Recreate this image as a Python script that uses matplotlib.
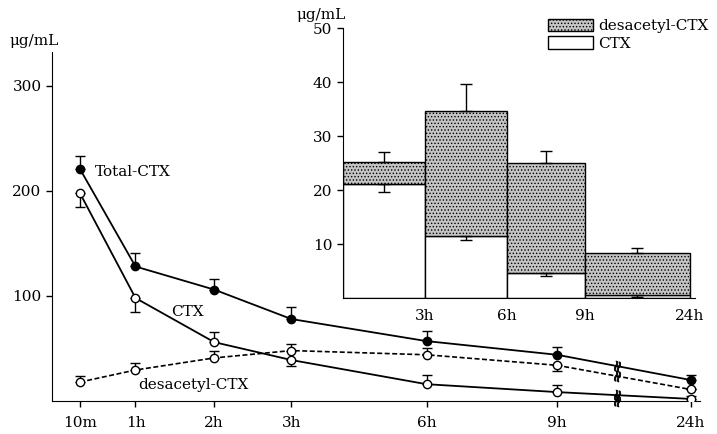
import numpy as np
import matplotlib
matplotlib.use("Agg")
import matplotlib.pyplot as plt
from matplotlib.markers import MarkerStyle
from matplotlib.transforms import Affine2D
from matplotlib.patches import Patch

plt.rcParams["font.family"] = ["DejaVu Serif"]
plt.rcParams["font.size"] = 11
plt.rcParams["hatch.linewidth"] = 0.6
plt.rcParams["hatch.color"] = "#555555"

# main chart: serum level after dosing
times = ["10m", "1h", "2h", "3h", "6h", "9h", "24h"]
total_ctx = [221, 128, 106, 78, 57, 44, 20]
total_up = [12, 13, 10, 11, 10, 7, 5]
ctx = [198, 98, 56, 39, 16, 8.5, 2]
ctx_lo = [13, 13, 0, 6, 0, 0, 0]
ctx_up = [0, 0, 10, 0, 9, 7, 3]
desac = [18, 29.5, 41, 48, 44, 34, 11]
desac_lo = [0, 0, 0, 0, 0, 5, 0]
desac_up = [6, 7, 7, 6, 6, 0, 0]

# inset: stacked bars per interval
intervals = ["3h", "6h", "9h", "24h"]
bar_ctx = [21.2, 11.6, 4.6, 0.6]
bar_desac = [4.0, 23.0, 20.4, 7.8]
bar_total_up = [1.8, 5.1, 2.2, 0.8]
bar_ctx_lo = [1.6, 0.8, 0.5, 0.4]

# layout (axis positions, not data)
xpos = np.array([0, 0.7, 1.69, 2.66, 4.36, 6.0, 7.68])
xbreak = 6.76
bar_left = np.array([0, 1, 2, 2.95])
bar_w = np.array([1, 1, 0.95, 1.28])

fig = plt.figure(figsize=(7.17, 4.34), dpi=100)
ax = fig.add_axes([0.0725, 0.076, 0.904, 0.804])

for s in ["top", "right"]:
    ax.spines[s].set_visible(False)

ax.errorbar(xpos, total_ctx, yerr=[np.zeros(7), total_up], color="black", lw=1.3,
            marker="o", ms=6, mfc="black", capsize=3.5, elinewidth=1, zorder=3)
ax.errorbar(xpos, ctx, yerr=[ctx_lo, ctx_up], color="black", lw=1.3,
            marker="o", ms=6, mfc="white", capsize=3.5, elinewidth=1, zorder=3)
ax.errorbar(xpos, desac, yerr=[desac_lo, desac_up], color="black", lw=1.2, ls=(0, (3, 1.5)),
            marker="o", ms=6, mfc="white", capsize=3.5, elinewidth=1, zorder=3)

# break marks
brk = MarkerStyle(r"$\approx$", transform=Affine2D().rotate_deg(75))
for series in [total_ctx, ctx, desac]:
    ax.plot([xbreak], [np.interp(xbreak, xpos, series)], marker=brk, ms=7,
            color="black", mew=0.6, ls="none", zorder=4)
ax.plot([xbreak], [0], marker=brk, ms=7, color="black", mew=0.6, ls="none", zorder=4,
        clip_on=False)

ax.set_xlim(-0.35, 7.8)
ax.set_ylim(0, 332)
ax.set_xticks(xpos)
ax.set_xticklabels(times)
ax.set_yticks([100, 200, 300])
ax.tick_params(direction="out", length=4, width=1)
ax.tick_params(axis="x", pad=7)

ax.text(0.19, 218, "Total-CTX", va="center", ha="left")
ax.text(1.15, 85, "CTX", va="center", ha="left")
ax.text(0.74, 15, "desacetyl-CTX", va="center", ha="left")
fig.text(0.013, 0.905, "μg/mL", ha="left", va="center")

# inset
ins = fig.add_axes([0.478, 0.313, 0.491, 0.622])
for s in ["top", "right"]:
    ins.spines[s].set_visible(False)
centers = bar_left + bar_w / 2
ins.bar(bar_left, bar_ctx, width=bar_w, align="edge", color="white", edgecolor="black", lw=1)
ins.bar(bar_left, bar_desac, width=bar_w, bottom=bar_ctx, align="edge", color="#c4c4c4",
        edgecolor="black", lw=1, hatch=".....")
tops = np.array(bar_ctx) + np.array(bar_desac)
ins.errorbar(centers, tops, yerr=[np.zeros(4), bar_total_up], fmt="none", ecolor="black",
             capsize=4, elinewidth=1)
ins.errorbar(centers, bar_ctx, yerr=[bar_ctx_lo, np.zeros(4)], fmt="none", ecolor="black",
             capsize=4, elinewidth=1)
ins.set_xlim(0, 4.29)
ins.set_ylim(0, 50)
ins.set_yticks([10, 20, 30, 40, 50])
ins.set_xticks(bar_left + bar_w)
ins.set_xticklabels(intervals)
ins.tick_params(axis="y", direction="out", length=4, width=1)
ins.tick_params(axis="x", length=0, pad=8)
fig.text(0.414, 0.966, "μg/mL", ha="left", va="center")

handles = [Patch(facecolor="#c4c4c4", edgecolor="black", hatch=".....", label="desacetyl-CTX"),
           Patch(facecolor="white", edgecolor="black", label="CTX")]
fig.legend(handles=handles, loc="upper right", bbox_to_anchor=(1.005, 0.985), frameon=False,
           handlelength=3.0, handleheight=0.9, handletextpad=0.3, labelspacing=0.2,
           borderpad=0.3)

fig.savefig("out.png", dpi=100)
